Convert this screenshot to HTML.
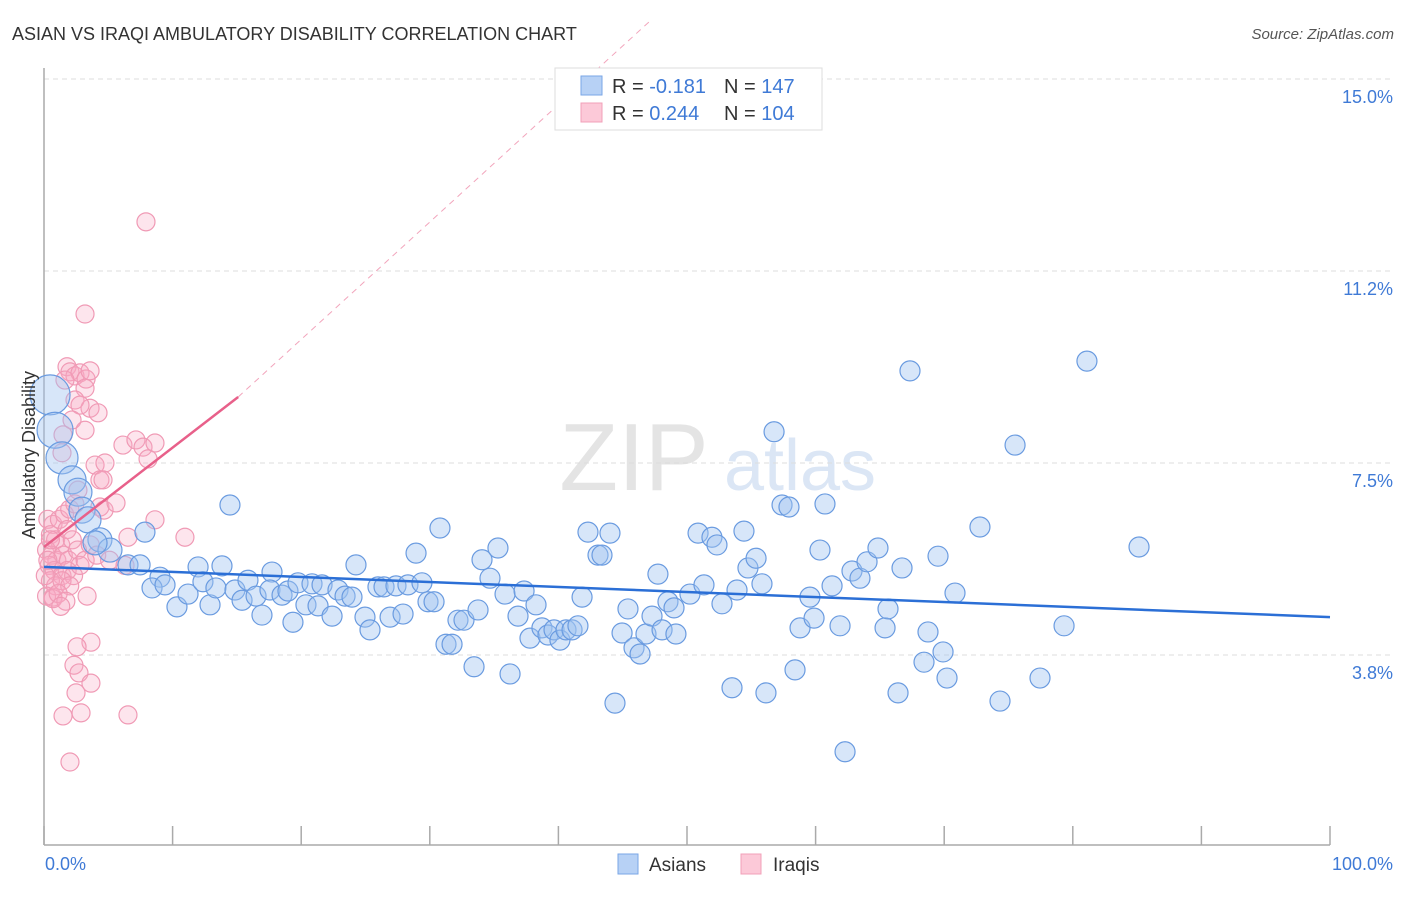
<!DOCTYPE html>
<html><head><meta charset="utf-8"><style>
body{margin:0;background:#fff;font-family:"Liberation Sans",sans-serif}
svg text{font-family:"Liberation Sans",sans-serif}
</style></head><body>
<svg id="chart" width="1406" height="892" viewBox="0 0 1406 892" xmlns="http://www.w3.org/2000/svg">
<text x="12" y="40" font-size="18" fill="#333">ASIAN VS IRAQI AMBULATORY DISABILITY CORRELATION CHART</text>
<text x="1394" y="39" font-size="15" fill="#555" text-anchor="end" font-style="italic">Source: ZipAtlas.com</text>
<text x="634" y="490" font-size="96" fill="#e4e4e4" text-anchor="middle" font-family="Liberation Serif">ZIP</text>
<text x="800" y="490" font-size="72" fill="#dbe6f5" text-anchor="middle">atlas</text>
<g id="grid"></g>
<g id="axes"></g>
<g id="pts"></g>
<g id="trends"></g>
<text transform="translate(35,455) rotate(-90)" font-size="18" fill="#333" text-anchor="middle">Ambulatory Disability</text>
<text x="45" y="870" font-size="18" fill="#3f7ad6">0.0%</text>
<text x="1393" y="870" font-size="18" fill="#3f7ad6" text-anchor="end">100.0%</text>
<g>
<rect x="555" y="68" width="267" height="62" fill="#fff" stroke="#ddd"/>
<rect x="581" y="76" width="21" height="19" fill="#b7d1f5" stroke="#7aa6e6"/>
<rect x="581" y="103" width="21" height="19" fill="#fcc9d8" stroke="#f2a0b8"/>
<text x="612" y="93" font-size="20" fill="#333">R = <tspan fill="#3f7ad6">-0.181</tspan></text>
<text x="724" y="93" font-size="20" fill="#333">N = <tspan fill="#3f7ad6">147</tspan></text>
<text x="612" y="120" font-size="20" fill="#333">R = <tspan fill="#3f7ad6">0.244</tspan></text>
<text x="724" y="120" font-size="20" fill="#333">N = <tspan fill="#3f7ad6">104</tspan></text>
</g>
<g>
<rect x="618" y="854" width="20" height="20" fill="#b7d1f5" stroke="#7aa6e6"/>
<text x="649" y="871" font-size="19" fill="#333">Asians</text></g>
<g>
<rect x="741" y="854" width="20" height="20" fill="#fcc9d8" stroke="#f2a0b8"/>
<text x="773" y="871" font-size="19" fill="#333">Iraqis</text></g>
</svg>
<script>
const yTicks=[3.75,7.5,11.25,15];
const yTickLabels=["3.8%","7.5%","11.2%","15.0%"];
const xTicks=[0,10,20,30,40,50,60,70,80,90,100];
const asianX=[0.47,0.86,1.4,2.18,2.64,2.95,3.42,4.35,5.13,3.97,14.46,7.85,6.53,7.47,9.02,8.4,9.41,10.34,11.2,11.98,12.36,12.91,13.37,13.84,14.85,15.4,15.86,16.49,16.95,17.73,17.57,18.51,18.97,19.36,19.75,20.37,20.84,21.31,21.62,22.4,22.86,23.41,23.95,24.26,24.96,25.35,25.97,26.44,26.91,27.37,27.92,28.3,28.93,29.39,29.86,30.33,30.79,31.26,31.73,32.19,32.66,33.44,33.75,34.06,34.68,35.3,35.85,36.24,36.86,37.33,37.79,38.26,38.72,39.19,39.66,40.12,40.59,41.06,41.52,41.84,42.3,43.08,43.39,44.01,44.4,44.95,45.41,45.88,46.35,46.81,47.28,47.74,48.06,48.52,48.99,49.14,50.23,50.86,51.32,51.94,52.33,52.72,53.5,53.89,54.43,54.74,55.37,55.83,56.14,56.77,57.39,57.93,58.4,58.79,59.56,59.88,60.34,60.73,61.28,61.9,62.29,62.83,63.45,64.0,64.85,65.4,65.63,66.41,66.72,67.34,68.43,68.74,69.52,69.91,70.22,70.84,72.78,74.34,75.51,77.45,79.32,81.1,85.15];
const asianY=[8.83,8.14,7.6,7.17,6.93,6.58,6.39,6.0,5.8,5.94,6.68,6.15,5.51,5.51,5.27,5.06,5.12,4.69,4.94,5.47,5.18,4.73,5.06,5.49,5.02,4.82,5.21,4.9,4.53,5.37,5.02,4.92,5.0,4.39,5.16,4.73,5.14,4.71,5.12,4.51,5.02,4.9,4.88,5.51,4.49,4.24,5.08,5.08,4.49,5.1,4.55,5.12,5.74,5.16,4.79,4.79,6.23,3.96,3.96,4.43,4.43,3.52,4.63,5.61,5.25,5.84,4.94,3.38,4.51,5.0,4.08,4.73,4.28,4.14,4.24,4.04,4.24,4.24,4.32,4.88,6.15,5.7,5.7,6.13,2.81,4.18,4.65,3.89,3.77,4.16,4.51,5.33,4.24,4.79,4.67,4.16,4.94,6.13,5.12,6.05,5.9,4.75,3.11,5.02,6.17,5.45,5.64,5.14,3.01,8.11,6.68,6.64,3.46,4.28,4.88,4.47,5.8,6.7,5.1,4.32,1.86,5.39,5.25,5.57,5.84,4.28,4.65,3.01,5.45,9.3,3.61,4.2,5.68,3.81,3.3,4.96,6.25,2.85,7.85,3.3,4.32,9.49,5.86];
const asianSize=[20,18,16,14,14,13,13,12,12,12];
const iraqiX=[7.93,3.19,1.4,1.79,2.02,2.41,2.8,3.27,3.58,3.19,1.63,2.41,3.58,2.8,2.18,3.19,1.48,4.2,3.97,4.74,4.35,4.59,2.64,4.35,4.67,5.6,6.14,7.15,7.7,8.63,8.09,8.63,10.96,6.53,3.65,2.57,2.33,2.72,3.65,2.49,1.48,2.88,6.53,2.02,3.35,0.7,0.3,0.7,1.2,1.6,2.0,2.4,0.5,0.9,1.3,1.8,2.2,0.2,0.6,1.0,1.5,1.9,2.6,0.4,0.8,1.4,1.8,2.3,0.5,0.9,1.4,2.0,0.2,0.7,1.1,0.1,0.3,0.5,2.8,3.2,3.6,1.7,1.3,4.1,5.1,6.3];
const iraqiY=[12.21,10.41,7.7,9.38,9.28,9.2,9.26,9.14,9.3,8.96,9.12,8.73,8.57,8.63,8.34,8.14,8.05,8.48,7.46,7.5,7.17,7.17,6.97,6.64,6.58,6.72,7.85,7.95,7.81,7.89,7.58,6.39,6.05,6.05,4.0,3.91,3.55,3.4,3.2,3.01,2.56,2.62,2.58,1.66,4.9,4.88,6.4,6.3,6.4,6.5,6.6,6.7,6.1,6.0,5.9,6.2,6.0,5.8,5.7,5.6,5.7,5.6,5.8,5.5,5.4,5.3,5.4,5.3,5.2,5.1,5.2,5.1,4.9,4.85,4.95,5.3,5.6,6.0,5.5,5.6,5.9,4.8,4.7,5.7,5.6,5.5];
const blueTrend=[[0,5.47],[100,4.49]];
const pinkTrend=[[0,5.86],[15.1,8.79]];
const pinkDashEnd=[47.2,16.15];

const NS="http://www.w3.org/2000/svg";
const X0=44,X1=1330,Y0=847,PPY=51.2;
function sx(v){return X0+(X1-X0)*v/100;}
function sy(v){return Y0-v*PPY;}
function mk(tag,attrs,parent){const e=document.createElementNS(NS,tag);for(const k in attrs)e.setAttribute(k,attrs[k]);parent.appendChild(e);return e;}
const grid=document.getElementById('grid'),axes=document.getElementById('axes'),pts=document.getElementById('pts'),tr=document.getElementById('trends');
yTicks.forEach((t,i)=>{
 const l=mk('line',{x1:X0,x2:1393,y1:sy(t),y2:sy(t),stroke:'#ddd','stroke-dasharray':'5,4'},grid);
 
 
 const tx=mk('text',{x:1393,y:sy(t)+24,'font-size':18,fill:'#3f7ad6','text-anchor':'end'},grid);
 tx.textContent=yTickLabels[i];
 
 
});
const ya=mk('line',{x1:X0,x2:X0,y1:68,y2:845,stroke:'#aaa','stroke-width':1.5},axes);


const xa=mk('line',{x1:X0,x2:X1,y1:845,y2:845,stroke:'#aaa','stroke-width':1.5},axes);


xTicks.forEach(t=>{
 const l=mk('line',{x1:sx(t),x2:sx(t),y1:826,y2:845,stroke:'#aaa','stroke-width':1.5},axes);
 
 
});
iraqiX.forEach((x,i)=>{
 const c=mk('circle',{cx:sx(x),cy:sy(iraqiY[i]),r:9,fill:'rgba(247,170,196,0.3)',stroke:'#f09ab5','stroke-width':1.2},pts);
 
 
});
asianX.forEach((x,i)=>{
 const c=mk('circle',{cx:sx(x),cy:sy(asianY[i]),r:asianSize[i]||10,fill:'rgba(160,196,240,0.42)',stroke:'#6a9be0','stroke-width':1.2},pts);
 
 
});
const bt=mk('line',{x1:sx(blueTrend[0][0]),y1:sy(blueTrend[0][1]),x2:sx(blueTrend[1][0]),y2:sy(blueTrend[1][1]),stroke:'#2b6fd6','stroke-width':2.5},tr);


const pd=mk('line',{x1:sx(pinkTrend[1][0]),y1:sy(pinkTrend[1][1]),x2:sx(pinkDashEnd[0]),y2:sy(pinkDashEnd[1]),stroke:'#f2a5bc','stroke-width':1,'stroke-dasharray':'6,5'},tr);


const pt=mk('line',{x1:sx(pinkTrend[0][0]),y1:sy(pinkTrend[0][1]),x2:sx(pinkTrend[1][0]),y2:sy(pinkTrend[1][1]),stroke:'#e8608a','stroke-width':2.5},tr);


</script>
</body></html>
